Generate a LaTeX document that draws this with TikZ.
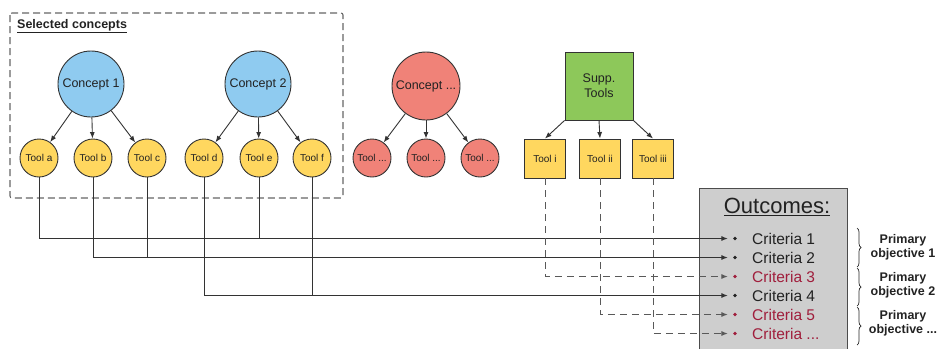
\documentclass[tikz,border=0pt]{standalone}
\usepackage{fontspec}
\setmainfont{Liberation Sans}
\usetikzlibrary{arrows.meta,decorations.pathreplacing}
\definecolor{cblue}{RGB}{143,203,240}
\definecolor{cred}{RGB}{240,130,120}
\definecolor{cgreen}{RGB}{141,200,90}
\definecolor{cyellow}{RGB}{255,215,95}
\definecolor{cgray}{RGB}{206,206,206}
\definecolor{cmaroon}{RGB}{160,30,60}
\definecolor{cdark}{RGB}{34,34,34}
\begin{document}
\begin{tikzpicture}[x=1pt,y=-1pt,
  concept/.style={circle,draw=black!80,line width=0.9pt,minimum size=66pt,inner sep=0pt,text=cdark,font=\fontsize{12.5}{14}\selectfont},
  toolc/.style={circle,draw=black!80,line width=0.9pt,minimum size=38pt,inner sep=0pt,text=cdark,font=\fontsize{10}{12}\selectfont},
  toolr/.style={rectangle,draw=black!80,line width=0.9pt,minimum width=41pt,minimum height=39pt,inner sep=0pt,fill=cyellow,text=cdark,font=\fontsize{10}{12}\selectfont},
  tip/.style={-{Latex[length=6.5pt,width=5pt]}},
  branch/.style={draw=black!80,line width=0.9pt,tip},
  link/.style={draw=black!80,line width=1pt},
  dlink/.style={draw=black!65,line width=1pt,dash pattern=on 7pt off 5pt},
  bul/.style={circle,inner sep=0pt,minimum size=3.8pt},
  crit/.style={anchor=west,inner sep=0pt,font=\fontsize{15.5}{18}\selectfont},
  objl/.style={align=center,text=cdark,font=\bfseries\fontsize{12.5}{14}\selectfont},
  brc/.style={decorate,decoration={brace,amplitude=4pt},line width=0.7pt,draw=black!85}
]
\useasboundingbox (0,0) rectangle (939,349);

% selected concepts box
\draw[draw=black!60,line width=1.1pt,dash pattern=on 7pt off 4pt,rounded corners=2pt] (10,13) rectangle (343,198);
\node[anchor=west,inner sep=0pt,text=cdark,font=\bfseries\fontsize{12.5}{14}\selectfont] (sel) at (17,26) {\underline{Selected concepts}};

% concepts
\node[concept,fill=cblue] (c1) at (91,84) {Concept 1};
\node[concept,fill=cblue] (c2) at (258,84) {Concept 2};
\node[concept,fill=cred,minimum size=68pt] (c3) at (426,86) {Concept ...};
\node[rectangle,draw=black!80,line width=0.9pt,fill=cgreen,minimum size=68pt,inner sep=0pt,align=center,text=cdark,font=\fontsize{12.5}{15}\selectfont] (supp) at (599,86) {Supp.\\Tools};

% tools
\node[toolc,fill=cyellow] (ta) at (39,158) {Tool a};
\node[toolc,fill=cyellow] (tb) at (93,158) {Tool b};
\node[toolc,fill=cyellow] (tc) at (147,158) {Tool c};
\node[toolc,fill=cyellow] (td) at (204,158) {Tool d};
\node[toolc,fill=cyellow] (te) at (259,158) {Tool e};
\node[toolc,fill=cyellow] (tf) at (312,158) {Tool f};
\node[toolc,fill=cred] (tx1) at (372,158) {Tool ...};
\node[toolc,fill=cred] (tx2) at (426,158) {Tool ...};
\node[toolc,fill=cred] (tx3) at (480,158) {Tool ...};
\node[toolr] (ti) at (545,158.5) {Tool i};
\node[toolr] (tii) at (600,158.5) {Tool ii};
\node[toolr] (tiii) at (653,158.5) {Tool iii};

% branches
\draw[branch] (c1) -- (ta);
\draw[branch] (c1) -- (tb);
\draw[branch] (c1) -- (tc);
\draw[branch] (c2) -- (td);
\draw[branch] (c2) -- (te);
\draw[branch] (c2) -- (tf);
\draw[branch] (c3) -- (tx1);
\draw[branch] (c3) -- (tx2);
\draw[branch] (c3) -- (tx3);
\draw[branch] (supp.south west) -- (ti.north);
\draw[branch] (supp.south) -- (tii.north);
\draw[branch] (supp.south east) -- (tiii.north);

% outcomes box
\fill[cgray] (699,188) rectangle (847,349);
\draw[black!70,line width=1pt] (699,349) -- (699,188) -- (847,188) -- (847,349);
\node[inner sep=0pt,text=cdark,font=\fontsize{22}{26}\selectfont] (out) at (777,207) {\underline{Outcomes:}};

\node[bul,fill=cdark] (b1) at (735,238.5) {};
\node[bul,fill=cdark] (b2) at (735,257.5) {};
\node[bul,fill=cmaroon] (b3) at (735,276.5) {};
\node[bul,fill=cdark] (b4) at (735,295.5) {};
\node[bul,fill=cmaroon] (b5) at (735,314.5) {};
\node[bul,fill=cmaroon] (b6) at (735,333.5) {};
\node[crit,text=cdark] (k1) at (752,238.5) {Criteria 1};
\node[crit,text=cdark] (k2) at (752,257.5) {Criteria 2};
\node[crit,text=cmaroon] (k3) at (752,276.5) {Criteria 3};
\node[crit,text=cdark] (k4) at (752,295.5) {Criteria 4};
\node[crit,text=cmaroon] (k5) at (752,314.5) {Criteria 5};
\node[crit,text=cmaroon] (k6) at (752,333.5) {Criteria ...};

% connectors to outcomes
\draw[link,tip,shorten >=5pt] (ta.south) |- (b1.west);
\draw[link] (te.south) -- (te.south |- b1.west);
\draw[link,tip,shorten >=5pt] (tb.south) |- (b2.west);
\draw[link] (tc.south) -- (tc.south |- b2.west);
\draw[link,tip,shorten >=5pt] (td.south) |- (b4.west);
\draw[link] (tf.south) -- (tf.south |- b4.west);
\draw[dlink,tip,shorten >=5pt] (ti.south) |- (b3.west);
\draw[dlink,tip,shorten >=5pt] (tii.south) |- (b5.west);
\draw[dlink,tip,shorten >=5pt] (tiii.south) |- (b6.west);

% braces and objectives
\draw[brc] (857,228) -- (857,267);
\draw[brc] (857,268) -- (857,306);
\draw[brc] (857,307) -- (857,345);
\node[objl] (o1) at (903,247) {Primary\\objective 1};
\node[objl] (o2) at (903,285) {Primary\\objective 2};
\node[objl] (o3) at (903,323) {Primary\\objective ...};
\end{tikzpicture}
\end{document}
